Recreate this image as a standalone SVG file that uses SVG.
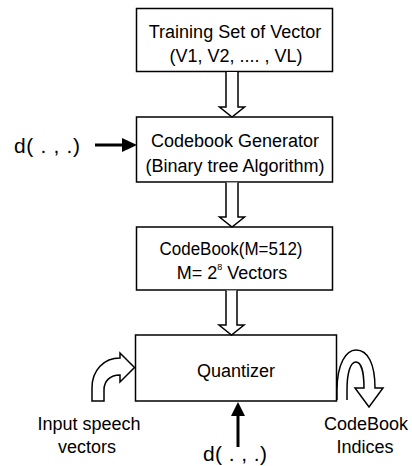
<svg xmlns="http://www.w3.org/2000/svg" width="412" height="466" viewBox="0 0 412 466">
  <style>
    .box { fill: #fff; stroke: #000; stroke-width: 1.5; }
    .lbl { font-family: "Liberation Sans", Arial, sans-serif; font-size: 18px; fill: #000; text-anchor: middle; }
    .big { font-size: 21px; }
    .hollow { fill: #fff; stroke: #000; stroke-width: 1.5; stroke-linejoin: miter; }
    .solid { stroke: #000; stroke-width: 3; fill: none; }
    .head { fill: #000; stroke: none; }
  </style>
  <rect width="412" height="466" fill="#fff"/>

  <g id="training-set">
    <rect class="box" x="136.5" y="8.5" width="196" height="63"/>
    <text class="lbl" x="235" y="38">Training Set of Vector</text>
    <text class="lbl" x="236" y="62">(V1, V2, .... , VL)</text>
  </g>

  <g id="codebook-generator">
    <rect class="box" x="136.5" y="117" width="196" height="65"/>
    <text class="lbl" x="235" y="147">Codebook Generator</text>
    <text class="lbl" x="235" y="172">(Binary tree Algorithm)</text>
  </g>

  <g id="codebook">
    <rect class="box" x="136.5" y="227" width="196" height="63"/>
    <text class="lbl" x="231" y="255" textLength="143" lengthAdjust="spacingAndGlyphs">CodeBook(M=512)</text>
    <text class="lbl" x="232" y="279">M= 2<tspan font-size="9" dy="-9">8</tspan><tspan dy="9"> Vectors</tspan></text>
  </g>

  <g id="quantizer">
    <rect class="box" x="135.5" y="335" width="201" height="66"/>
    <text class="lbl" x="236" y="377">Quantizer</text>
  </g>

  <g id="distance-left">
    <text class="lbl big" x="47" y="153" textLength="66" lengthAdjust="spacing">d( . , .)</text>
  </g>

  <g id="distance-bottom">
    <text class="lbl big" x="235" y="461" textLength="64" lengthAdjust="spacing">d( . , .)</text>
  </g>

  <g id="input-label">
    <text class="lbl" x="89" y="430">Input speech</text>
    <text class="lbl" x="87" y="453">vectors</text>
  </g>

  <g id="indices-label">
    <text class="lbl" x="366" y="430">CodeBook</text>
    <text class="lbl" x="365" y="453">Indices</text>
  </g>

  <g id="connectors">
    <!-- hollow block arrows between the stacked boxes -->
    <path class="hollow" d="M226 72 L226 107 L219.5 107 L232 117 L244.5 107 L238 107 L238 72"/>
    <path class="hollow" d="M226 182.5 L226 217 L219.5 217 L232 227 L244.5 217 L238 217 L238 182.5"/>
    <path class="hollow" d="M226 290.5 L226 325 L219 325 L231.5 335 L244 325 L237 325 L237 290.5"/>

    <!-- solid distance arrows -->
    <line class="solid" x1="95" y1="145" x2="124" y2="145"/>
    <polygon class="head" points="122,138 137,145 122,152"/>
    <line class="solid" x1="238" y1="447" x2="238" y2="414"/>
    <polygon class="head" points="231,416 238,402 245,416"/>

    <!-- curved input arrow into the quantizer -->
    <path class="hollow" d="M92 401 L92 388 C92 370 104 358 120 358 L120 353 L134.5 367.5 L120 382 L120 375 C110 375 104 381 104 390 L104 401 Z"/>

    <!-- curved output arrow leaving the quantizer -->
    <path class="hollow" d="M337 400 L337 390 C337 364 346 350 356 350 C368 350 375 364 375 388 L383 388 L369 407 L355 388 L364 388 C364 372 361 362 356 362 C350 362 347 374 347 390 L347 400"/>
  </g>
</svg>
